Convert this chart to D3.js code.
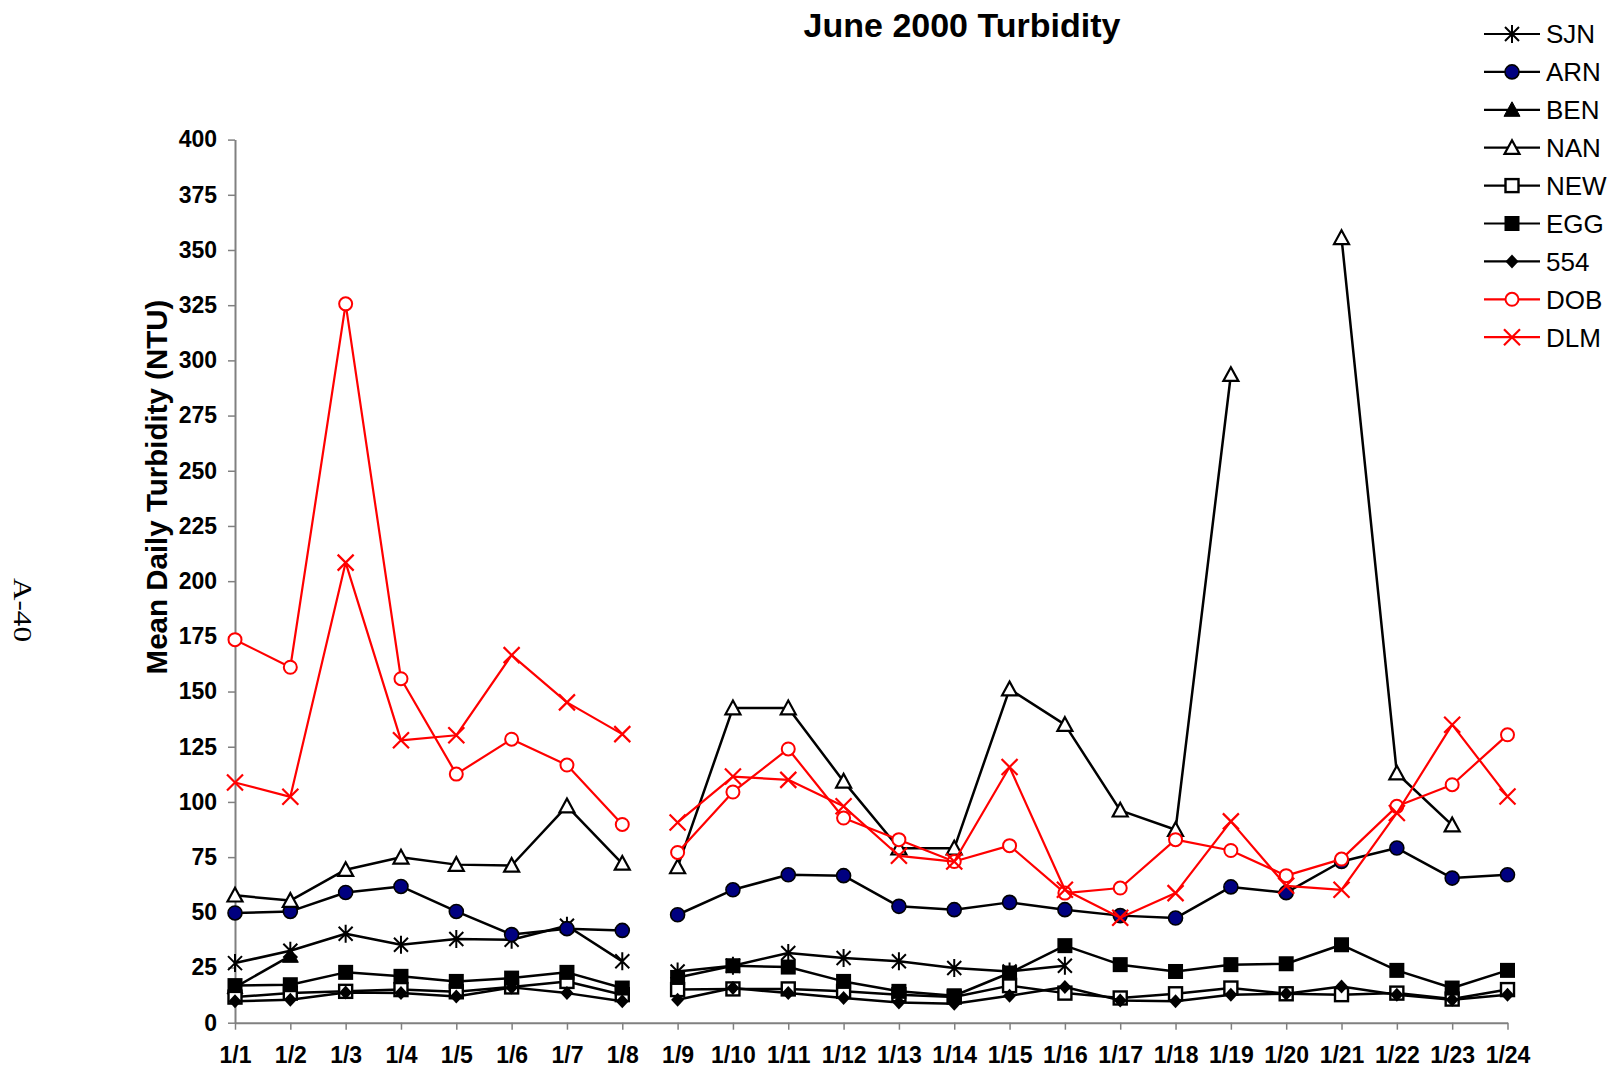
<!DOCTYPE html>
<html><head><meta charset="utf-8">
<script src="https://cdn.jsdelivr.net/npm/d3@7"></script>
<style>body{margin:0;background:#fff} svg{display:block}</style>
</head><body>
<svg id="chart" width="1610" height="1072"></svg>
<script>
const categories = ["1/1","1/2","1/3","1/4","1/5","1/6","1/7","1/8","1/9","1/10","1/11","1/12","1/13","1/14","1/15","1/16","1/17","1/18","1/19","1/20","1/21","1/22","1/23","1/24"];
const yTicks = [0,25,50,75,100,125,150,175,200,225,250,275,300,325,350,375,400];
const breakBefore = ["1/9"];
const seriesNames = ["SJN","ARN","BEN","NAN","NEW","EGG","554","DOB","DLM"];
const SJN = [27,32.6,40.3,35.3,37.9,37.6,43.9,27.8,23.2,25.8,31.6,29.3,27.8,24.8,23.2,25.8,null,null,null,null,null,null,null,null];
const ARN = [49.7,50.4,59,61.7,50.4,39.9,42.6,41.8,48.9,60.2,67,66.6,52.7,51.2,54.5,51.2,48.5,47.4,61.5,58.9,73,79.1,65.5,67];
const BEN = [16,30.3,null,null,null,null,null,null,null,null,null,null,null,null,null,null,null,null,null,null,null,null,null,null];
const NAN = [57.7,55.3,69.3,74.9,71.6,71.2,98.1,72.1,70.5,142.5,142.5,109.3,79,79,151.1,135,96.2,87.4,293.5,null,355.5,113,89.5,null];
const NEW = [11.6,13.4,14.2,15,14,16.2,18.7,12.7,15,15.3,15.3,14.2,12.7,11.6,16.8,13.4,11.2,13.1,15.7,13.1,12.7,13.4,10.7,15];
const EGG = [16.8,17.2,22.8,21,18.7,20.2,22.8,15.7,20.5,25.8,25.2,18.7,14.2,12.2,22.5,34.9,26.3,23.2,26.3,26.7,35.3,23.7,15.7,23.7];
const S554 = [9.7,10.4,13.7,13.5,11.9,16,13.4,9.7,10.4,15.7,13.4,11.2,9.2,8.6,12.2,16.2,10.1,9.7,12.7,13.1,16.4,12.7,10.4,12.7];
const DOB = [173.5,161,325.6,155.8,112.6,128.4,116.7,89.8,77.1,104.5,124,92.7,82.9,73,80.2,58.7,61,82.9,78,66.6,74.1,98,107.8,130.4];
const DLM = [108.8,102.3,208.4,127.9,130.2,166.5,145.1,130.7,90.7,111.5,110,98,75.6,73,115.8,60.2,47.5,58.7,91.2,62,60.2,95,135,102.5];

const seriesValues = [SJN, ARN, BEN, NAN, NEW, EGG, S554, DOB, DLM];
const seriesColors = ["#000","#000","#000","#000","#000","#000","#000","#f00","#f00"];
const seriesMarkers = ["star","circleNavy","triFilled","triOpen","squareOpen","squareFilled","diamond","circleOpen","x"];

const svg = d3.select("#chart");
const FONT = "'Liberation Sans', Arial, sans-serif";

const x = d3.scalePoint().domain(categories).range([235, 1507.5]);
const y = d3.scaleLinear().domain([0, 400]).range([1022.7, 139.6]);

function marker(g, type, color) {
  switch (type) {
    case "star":
      g.append("path").attr("d", "M-7,-7L7,7M-7,7L7,-7M0,-9L0,9")
        .attr("stroke", color).attr("stroke-width", 2).attr("fill", "none"); break;
    case "circleNavy":
      g.append("circle").attr("r", 7).attr("fill", "#000080").attr("stroke", "#000").attr("stroke-width", 1.6); break;
    case "triFilled":
      g.append("path").attr("d", "M0,-8L8,6.5L-8,6.5Z").attr("fill", "#000").attr("stroke", "#000").attr("stroke-width", 1); break;
    case "triOpen":
      g.append("path").attr("d", "M0,-7.5L7.5,6.2L-7.5,6.2Z").attr("fill", "#fff").attr("stroke", "#000").attr("stroke-width", 2.2); break;
    case "squareOpen":
      g.append("rect").attr("x", -6.5).attr("y", -6.5).attr("width", 13).attr("height", 13)
        .attr("fill", "#fff").attr("stroke", "#000").attr("stroke-width", 2.4); break;
    case "squareFilled":
      g.append("rect").attr("x", -7.5).attr("y", -7.5).attr("width", 15).attr("height", 15).attr("fill", "#000"); break;
    case "diamond":
      g.append("path").attr("d", "M0,-7L6.5,0L0,7L-6.5,0Z").attr("fill", "#000"); break;
    case "circleOpen":
      g.append("circle").attr("r", 6.5).attr("fill", "#fff").attr("stroke", color).attr("stroke-width", 2); break;
    case "x":
      g.append("path").attr("d", "M-8,-8L8,8M-8,8L8,-8")
        .attr("stroke", color).attr("stroke-width", 2.2).attr("fill", "none"); break;
  }
}

// Title
svg.append("text").attr("x", 962).attr("y", 36.5).attr("text-anchor", "middle")
  .attr("font-family", FONT).attr("font-weight", "bold").attr("font-size", 34)
  .text("June 2000 Turbidity");

// Side page label
svg.append("text").attr("transform", "translate(14,610) rotate(90)")
  .attr("text-anchor", "middle").attr("font-family", "'Liberation Serif', 'Times New Roman', serif")
  .attr("font-size", 25).attr("textLength", 64).attr("lengthAdjust", "spacingAndGlyphs")
  .text("A-40");

// Axes
const yAxis = svg.append("g").attr("transform", "translate(235,0)")
  .call(d3.axisLeft(y).tickValues(yTicks).tickSize(7).tickPadding(11).tickSizeOuter(0));
const xAxis = svg.append("g").attr("transform", `translate(0,${y(0)})`)
  .call(d3.axisBottom(x).tickSize(7).tickPadding(17).tickSizeOuter(0));
[yAxis, xAxis].forEach(a => {
  a.select(".domain").attr("stroke", "#808080").attr("stroke-width", 2);
  a.selectAll(".tick line").attr("stroke", "#808080").attr("stroke-width", 1.5);
  a.selectAll(".tick text").attr("font-family", FONT).attr("font-weight", "bold")
    .attr("font-size", 23).attr("fill", "#000");
});

// Y-axis title
svg.append("text").attr("transform", `translate(166.5,487) rotate(-90)`)
  .attr("text-anchor", "middle").attr("font-family", FONT).attr("font-weight", "bold")
  .attr("font-size", 29.5).text("Mean Daily Turbidity (NTU)");

// Series
const line = d3.line().x(d => x(d.cat)).y(d => y(d.v));
seriesNames.forEach((name, si) => {
  const vals = seriesValues[si];
  const color = seriesColors[si];
  const runs = [];
  let cur = [];
  categories.forEach((cat, i) => {
    const v = vals[i];
    if (v === null || breakBefore.includes(cat)) {
      if (cur.length) runs.push(cur);
      cur = [];
    }
    if (v !== null) cur.push({cat, v});
  });
  if (cur.length) runs.push(cur);
  const g = svg.append("g").attr("class", "series-" + name);
  runs.forEach(r => {
    if (r.length > 1) g.append("path").attr("d", line(r)).attr("fill", "none")
      .attr("stroke", color).attr("stroke-width", color === "#000" ? 2.5 : 2.2)
      .attr("stroke-linejoin", "round");
  });
  categories.forEach((cat, i) => {
    if (vals[i] === null) return;
    const mg = g.append("g").attr("transform", `translate(${x(cat)},${y(vals[i])})`);
    marker(mg, seriesMarkers[si], color);
  });
});

// Legend
const legend = svg.append("g");
seriesNames.forEach((name, si) => {
  const cy = 34 + si * 37.9;
  const color = seriesColors[si];
  legend.append("line").attr("x1", 1484).attr("x2", 1540).attr("y1", cy).attr("y2", cy)
    .attr("stroke", color).attr("stroke-width", 2.2);
  const mg = legend.append("g").attr("transform", `translate(1512,${cy})`);
  marker(mg, seriesMarkers[si], color);
  legend.append("text").attr("x", 1546).attr("y", cy + 9.3)
    .attr("font-family", FONT).attr("font-size", 26).attr("fill", "#000").text(name);
});
</script>
</body></html>
